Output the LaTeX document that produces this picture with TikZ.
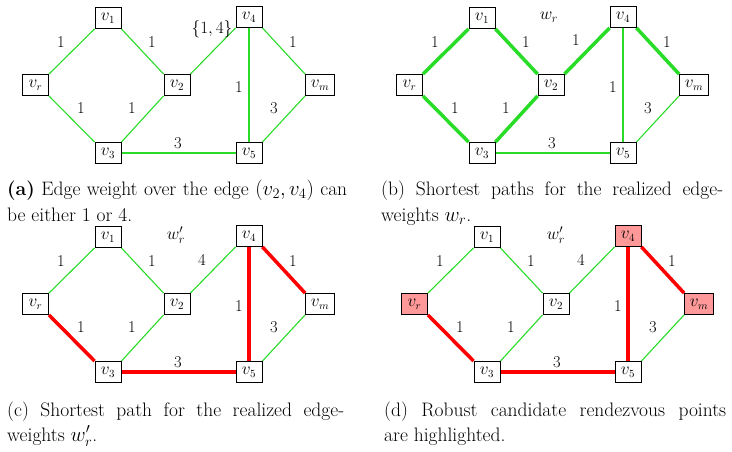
\documentclass[tikz,border=0pt]{standalone}
\usepackage{amsmath}
\usetikzlibrary{backgrounds}
\definecolor{gr}{RGB}{40,220,40}
\tikzset{
  vbox/.style={draw=black, line width=0.8pt, minimum width=26pt, minimum height=21pt,
    inner sep=2pt, fill=white, font=\fontsize{16}{18}\selectfont},
  hl/.style={fill=red!40},
  wl/.style={font=\fontsize{16.5}{18}\selectfont, inner sep=0pt},
  edgethin/.style={draw=gr, line width=1.1pt},
  edgegreen/.style={draw=gr, line width=3.5pt},
  edgered/.style={draw=red, line width=3.5pt},
  captext/.style={font=\fontsize{19.5}{26}\selectfont, inner sep=0pt, anchor=base west},
}
\newcommand{\gnodes}[4]{%
  \node[vbox,#2] (#1r) at (35.5,85) {$v_r$};
  \node[vbox] (#11) at (108,18) {$v_1$};
  \node[vbox] (#12) at (177,85) {$v_2$};
  \node[vbox,#3] (#14) at (249,17) {$v_4$};
  \node[vbox,minimum width=29pt,#4] (#1m) at (320,85) {$v_m$};
  \node[vbox] (#13) at (108,153) {$v_3$};
  \node[vbox] (#15) at (249,153) {$v_5$};
}
\newcommand{\gedges}[1]{%
  \begin{pgfonlayer}{background}
  \draw[er1] (#1r.north east) -- (#11.south west);
  \draw[e12] (#11.south east) -- (#12.north west);
  \draw[e24] (#12.north east) -- (#14.south west);
  \draw[e4m] (#14.south east) -- (#1m.north west);
  \draw[er3] (#1r.south east) -- (#13.north west);
  \draw[e32] (#13.north east) -- (#12.south west);
  \draw[e45] (#14) -- (#15);
  \draw[em5] (#1m.south west) -- (#15.north east);
  \draw[e35] (#13) -- (#15);
  \end{pgfonlayer}
}
\newcommand{\glabels}[3]{%
  \node[wl] (#1lr1) at (61,42) {1};
  \node[wl] (#1l12) at (152,42) {1};
  \node[wl] (#1l24) at (#3) {#2};
  \node[wl] (#1l4m) at (293,42) {1};
  \node[wl] (#1lr3) at (81,108) {1};
  \node[wl] (#1l32) at (132,108) {1};
  \node[wl] (#1l45) at (239,87) {1};
  \node[wl] (#1lm5) at (274,108) {3};
  \node[wl] (#1l35) at (178,143) {3};
}
\begin{document}
\begin{tikzpicture}[x=1pt,y=-1pt]
\begin{pgfonlayer}{background}
\fill[white] (0,0) rectangle (732,452);
\end{pgfonlayer}
\useasboundingbox (0,0) rectangle (732,452);

% (a)
\begin{scope}
  \tikzset{er1/.style=edgethin, e12/.style=edgethin, e24/.style=edgethin, e4m/.style=edgethin,
    er3/.style=edgethin, e32/.style=edgethin, e45/.style=edgethin, em5/.style=edgethin,
    e35/.style={draw=gr, line width=1.4pt}}
  \gnodes{a}{}{}{}
  \gedges{a}
  \glabels{a}{$\{1,4\}$}{212,29}
\end{scope}

% (b)
\begin{scope}[shift={(374,0)}]
  \tikzset{er1/.style=edgegreen, e12/.style=edgegreen, e24/.style=edgegreen, e4m/.style=edgegreen,
    er3/.style=edgegreen, e32/.style=edgegreen, e45/.style=edgethin, em5/.style=edgethin,
    e35/.style={draw=gr, line width=1.4pt}}
  \gnodes{b}{}{}{}
  \gedges{b}
  \glabels{b}{1}{202,40}
  \node[wl] (bw) at (175,17) {$w_r$};
\end{scope}

% (c)
\begin{scope}[shift={(0,219)}]
  \tikzset{er1/.style=edgethin, e12/.style=edgethin, e24/.style=edgethin, e4m/.style=edgered,
    er3/.style=edgered, e32/.style=edgethin, e45/.style=edgered, em5/.style=edgethin,
    e35/.style=edgered}
  \gnodes{c}{}{}{}
  \gedges{c}
  \glabels{c}{4}{202,41}
  \node[wl] (cw) at (176,16) {$w'_r$};
\end{scope}

% (d)
\begin{scope}[shift={(379,219)}]
  \tikzset{er1/.style=edgethin, e12/.style=edgethin, e24/.style=edgethin, e4m/.style=edgered,
    er3/.style=edgered, e32/.style=edgethin, e45/.style=edgered, em5/.style=edgethin,
    e35/.style=edgered}
  \gnodes{d}{hl}{hl}{hl}
  \gedges{d}
  \glabels{d}{4}{202,41}
  \node[wl] (dw) at (177,16) {$w'_r$};
\end{scope}

% captions
\node[captext] (capa1) at (7,195) {\makebox[340pt][s]{\textbf{(a)} Edge weight over the edge $(v_2, v_4)$ can}};
\node[captext] (capa2) at (7,221) {be either 1 or 4.};
\node[captext] (capb1) at (381,195) {\makebox[342pt][s]{(b) Shortest paths for the realized edge-}};
\node[captext] (capb2) at (381,221) {weights $w_r$.};
\node[captext] (capc1) at (7,416) {\makebox[337pt][s]{(c) Shortest path for the realized edge-}};
\node[captext] (capc2) at (7,441) {weights $w'_r$.};
\node[captext] (capd1) at (384,416) {\makebox[342pt][s]{(d) Robust candidate rendezvous points}};
\node[captext] (capd2) at (384,441) {are highlighted.};
\end{tikzpicture}
\end{document}
